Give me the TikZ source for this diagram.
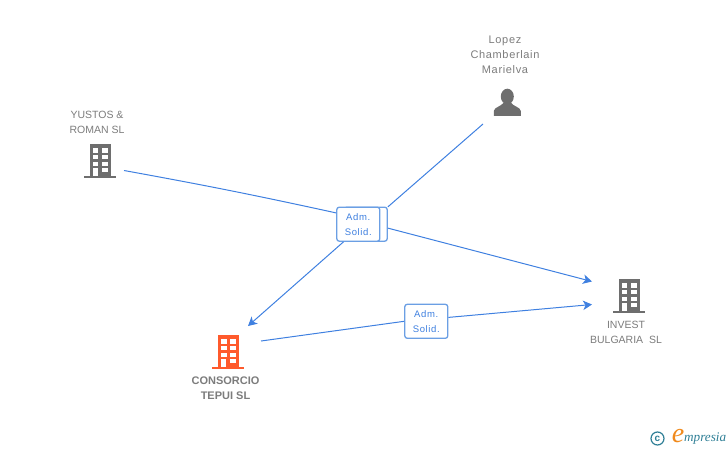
\documentclass[tikz,border=0pt]{standalone}
\usepackage{fontspec}
\setmainfont{Liberation Sans}
\newfontfamily\spacedfont[LetterSpace=7]{Liberation Sans}
\newfontfamily\widefont[LetterSpace=6]{Liberation Sans}
\newfontfamily\logofont{Liberation Serif}
\usetikzlibrary{positioning}
\usetikzlibrary{arrows.meta}
\definecolor{linkblue}{HTML}{3F80E0}
\definecolor{boxblue}{HTML}{6B9FE4}
\definecolor{iconGrey}{HTML}{6E6E6E}
\definecolor{textGrey}{HTML}{7C7C7C}
\definecolor{tepuiOrange}{HTML}{FF5A2C}
\definecolor{logoTeal}{HTML}{2F7F96}
\definecolor{logoOrange}{HTML}{F08A1D}
\tikzset{
	link/.style = {draw=linkblue, line width=1pt},
	linkarrow/.style = {link, -{Stealth[length=9pt, width=9.5pt, inset=2.5pt]}},
	rolebox/.style = {draw=boxblue, fill=white, line width=1.3pt, rounded corners=2.5pt, minimum width=43pt, minimum height=34pt, inner sep=0pt},
	roletext/.style = {text=linkblue, font=\spacedfont\fontsize{9.5}{15}\selectfont, align=center},
	name label/.style = {text=textGrey, font=\fontsize{10.5}{15}\selectfont, align=center, inner sep=0pt},
	building/.pic = {
		\fill (-10.5, -17) rectangle (11, 15);
		\fill (-16, 15) rectangle (16, 17);
		\fill[white] (-7.5, -13) rectangle (-1.7, -8.5);
		\fill[white] (2, -13) rectangle (7.5, -8.5);
		\fill[white] (-7.5, -6.2) rectangle (-1.7, -2);
		\fill[white] (2, -6.2) rectangle (7.5, -2);
		\fill[white] (-7.5, 0.5) rectangle (-1.7, 4.7);
		\fill[white] (2, 0.5) rectangle (7.5, 4.7);
		\fill[white] (-7, 7) rectangle (-2.5, 15);
		\fill[white] (2, 7) rectangle (7.5, 11);
	},
	person/.pic = {
		\fill (0, -6) ellipse (6.5 and 7.8);
		\fill (-13.5, 13.3) -- (-13.5, 8.5) .. controls (-13, 4.5) and (-6, 4) .. (-3.5, 0) -- (3.5, 0) .. controls (6, 4) and (13, 4.5) .. (13.5, 8.5) -- (13.5, 13.3) -- cycle;
	}
}
\begin{document}
\begin{tikzpicture}[x=1pt, y=-1pt]
	\useasboundingbox (0, 0) rectangle (728, 450);

	\pic[iconGrey] (yustos) at (100, 161) {building};
	\pic[iconGrey] (invest) at (629, 296) {building};
	\pic[tepuiOrange] (tepui) at (228.3, 352) {building};
	\pic[iconGrey] (lopez) at (507.3, 102.5) {person};

	\node[name label] (yustosname) at (97, 122.5) {YUSTOS \&\\ROMAN SL};
	\node[name label, font=\widefont\fontsize{11}{15}\selectfont] (lopezname) at (505, 55) {Lopez\\Chamberlain\\Marielva};
	\node[name label] (investname) at (626, 332.5) {INVEST\\BULGARIA\ \ SL};
	\node[name label, font=\bfseries\fontsize{11}{15}\selectfont] (tepuiname) at (225.5, 388.5) {CONSORCIO\\TEPUI SL};

	\node[rolebox] (backbox) at (365.7, 224.2) {};
	\node[rolebox, roletext] (frontbox) at (358.3, 224.2) {Adm.\\Solid.};
	\node[rolebox, roletext] (sidebox) at (426.3, 321.3) {Adm.\\Solid.};

	\coordinate (yustosout) at (124, 170.5);
	\coordinate (lopezout) at (483, 124);
	\coordinate (tepuiin) at (248, 326);
	\coordinate (tepuiout) at (261, 341);
	\coordinate (investtop) at (592, 281.5);
	\coordinate (investlow) at (592, 304.5);

	\draw[link] (yustosout) to[bend left=1] (frontbox.153);
	\draw[link] (lopezout) -- (backbox.38);
	\draw[linkarrow] (backbox.-10) -- (investtop);
	\draw[linkarrow] (frontbox.230) -- (tepuiin);
	\draw[link] (tepuiout) -- (sidebox.west);
	\draw[linkarrow] (sidebox.10) -- (investlow);

	\node[circle, draw=logoTeal, line width=1.2pt, text=logoTeal, inner sep=0pt, minimum size=13pt, font=\bfseries\fontsize{10}{10}\selectfont] (logomark) at (657.5, 438.5) {c};
	\node[text=logoOrange, font=\logofont\itshape\fontsize{28}{28}\selectfont, inner sep=0pt] (logoe) at (678, 436) {e};
	\node[text=logoTeal, font=\logofont\itshape\fontsize{13.2}{13.2}\selectfont, inner sep=0pt, anchor=west] (logotext) at (684, 439) {mpresia};
\end{tikzpicture}
\end{document}
